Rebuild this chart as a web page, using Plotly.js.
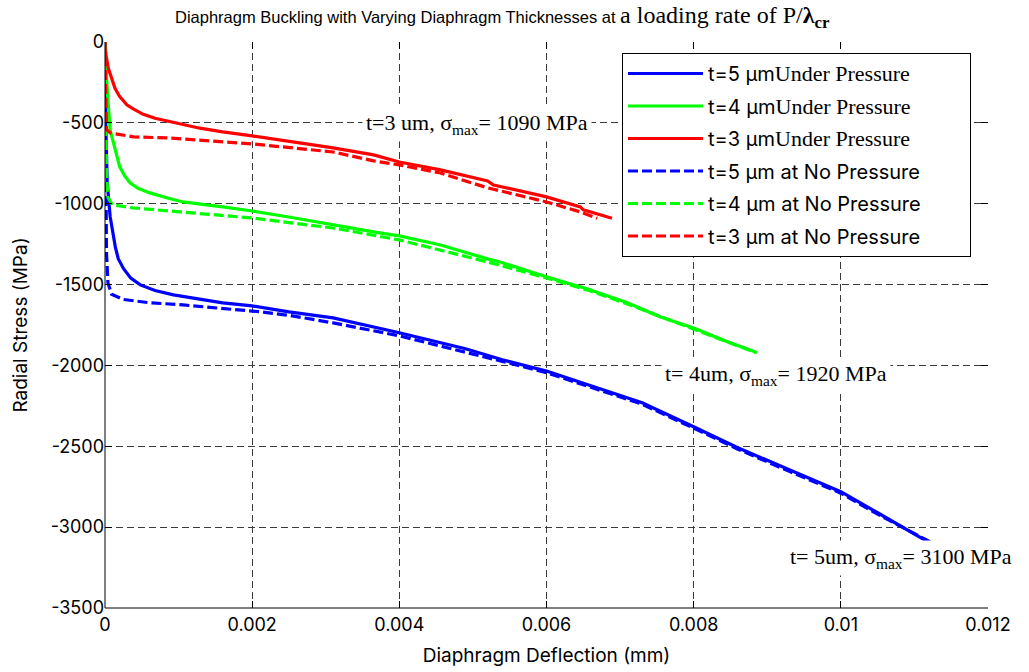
<!DOCTYPE html>
<html>
<head>
<meta charset="utf-8">
<script src="https://cdn.plot.ly/plotly-3.0.1.min.js"></script>
<style>
  html, body { margin: 0; padding: 0; background: #fff; }
  #chart { width: 1029px; height: 672px; }
</style>
</head>
<body>
<div id="chart"></div>
<script>
// Diaphragm deflection (mm) vs radial stress (MPa), per thickness and load case
const t5PressX = [0, 0.00001, 0.00003, 0.00007, 0.00014, 0.00018, 0.00025, 0.00035, 0.00048, 0.00068, 0.00093, 0.0016, 0.002, 0.0025, 0.0031, 0.004, 0.0049, 0.0054, 0.006, 0.0067, 0.0073, 0.008, 0.0086, 0.0093, 0.01, 0.0105, 0.01122];
const t5PressY = [0, -500, -870, -1080, -1267, -1340, -1400, -1460, -1502, -1537, -1564, -1613, -1632, -1669, -1706, -1798, -1897, -1965, -2035, -2140, -2231, -2379, -2509, -2645, -2781, -2911, -3100];

const t4PressX = [0, 0.00001, 0.00004, 0.00007, 0.00014, 0.0002, 0.00027, 0.00034, 0.00045, 0.00061, 0.00085, 0.00106, 0.0016, 0.002, 0.0025, 0.0031, 0.00365, 0.004, 0.00456, 0.0052, 0.00537, 0.006, 0.00656, 0.0071, 0.00755, 0.008, 0.00846, 0.00886];
const t4PressY = [0, -130, -358, -544, -667, -772, -830, -871, -905, -933, -965, -989, -1020, -1045, -1082, -1131, -1174, -1199, -1255, -1341, -1360, -1452, -1527, -1613, -1700, -1768, -1854, -1920];

const t3PressX = [0, 0.000014, 0.000045, 0.000091, 0.000136, 0.0002, 0.0003, 0.00039, 0.00052, 0.00068, 0.00084, 0.00106, 0.00129, 0.0016, 0.002, 0.0031, 0.00365, 0.004, 0.00456, 0.0052, 0.00528, 0.006, 0.00646, 0.0065, 0.00689];
const t3PressY = [0, -80, -163, -225, -286, -338, -390, -415, -447, -472, -488, -509, -533, -556, -581, -655, -698, -742, -791, -859, -884, -958, -1020, -1038, -1090];

const t5NoPressX = [0, 0.00002, 0.00004, 0.00009, 0.00025, 0.0006, 0.00106, 0.0016, 0.0021, 0.0025, 0.0031, 0.004, 0.0049, 0.0054, 0.006, 0.0067, 0.0073, 0.008, 0.0086, 0.0093, 0.01, 0.0105, 0.01125];
const t5NoPressY = [0, -1300, -1490, -1560, -1592, -1612, -1626, -1646, -1668, -1690, -1737, -1817, -1916, -1975, -2045, -2150, -2240, -2388, -2518, -2655, -2790, -2920, -3100];

const t4NoPressX = [0, 0.00001, 0.00002, 0.00004, 0.0001, 0.00038, 0.00106, 0.002, 0.0025, 0.0031, 0.004, 0.0052, 0.006, 0.0066, 0.0071, 0.0076, 0.008, 0.0085, 0.00884];
const t4NoPressY = [0, -300, -800, -960, -1007, -1026, -1051, -1088, -1117, -1150, -1224, -1360, -1459, -1540, -1620, -1708, -1776, -1862, -1920];

const t3NoPressX = [0, 0.00001, 0.00002, 0.00007, 0.00039, 0.00084, 0.00156, 0.002, 0.0031, 0.00365, 0.004, 0.00456, 0.0052, 0.006, 0.00646, 0.00669];
const t3NoPressY = [0, -300, -540, -562, -587, -593, -618, -630, -680, -735, -760, -810, -902, -989, -1051, -1090];

const xTickVals = [0, 0.002, 0.004, 0.006, 0.008, 0.01, 0.012];
const xTickText = ['0', '0.002', '0.004', '0.006', '0.008', '0.01', '0.012'];
const yTickVals = [-3500, -3000, -2500, -2000, -1500, -1000, -500, 0];
const yTickText = ['-3500', '-3000', '-2500', '-2000', '-1500', '-1000', '-500', '0'];

const SERIF = "'Liberation Serif', 'Times New Roman', serif";
const SANS = "Inter, 'Liberation Sans', Arial, sans-serif";
const TITLE_SANS = "'Liberation Sans', Arial, sans-serif";
const serifSpan = (s, px) => `<span style="font-family:${SERIF};font-size:${px}px">${s}</span>`;
// trailing blank room so the legend frame keeps its wide box
const legendPad = '\u00a0'.repeat(8);

const seriesNames = [
  't=5 μm' + serifSpan('Under Pressure', 22),
  't=4 μm' + serifSpan('Under Pressure', 22),
  't=3 μm' + serifSpan('Under Pressure', 22),
  't=5 μm at No Pressure' + legendPad,
  't=4 μm at No Pressure',
  't=3 μm at No Pressure'
];

const BLUE = '#0000ff', GREEN = '#00ff00', RED = '#ff0000';
const DASH = '10px,4px';

function curve(x, y, name, color, dashed, group) {
  return {
    x: x, y: y, name: name, type: 'scatter', mode: 'lines',
    legendgroup: group,
    line: { color: color, width: 3.2, dash: dashed ? DASH : 'solid' },
    hoverinfo: 'x+y+name'
  };
}

const data = [
  curve(t5PressX, t5PressY, seriesNames[0], BLUE, false, 'a'),
  curve(t4PressX, t4PressY, seriesNames[1], GREEN, false, 'b'),
  curve(t3PressX, t3PressY, seriesNames[2], RED, false, 'c'),
  curve(t5NoPressX, t5NoPressY, seriesNames[3], BLUE, true, 'd'),
  curve(t4NoPressX, t4NoPressY, seriesNames[4], GREEN, true, 'e'),
  curve(t3NoPressX, t3NoPressY, seriesNames[5], RED, true, 'f')
];

const gridStyle = { showgrid: true, gridcolor: '#3a3a3a', gridwidth: 1, griddash: '7px,4px' };

const noteFont = { family: SERIF, size: 22, color: '#000' };
function note(x, y, text) {
  return { x: x, y: y, xref: 'x', yref: 'y', text: text, showarrow: false,
           xanchor: 'center', yanchor: 'middle', bgcolor: '#ffffff', borderpad: 3, font: noteFont };
}

const layout = {
  width: 1029, height: 672,
  margin: { l: 105, r: 41, t: 42, b: 64 },
  paper_bgcolor: '#ffffff', plot_bgcolor: '#ffffff',
  font: { family: SANS, size: 19, color: '#000' },
  showlegend: true,
  title: {
    text: 'Diaphragm Buckling with Varying Diaphragm Thicknesses at ' +
          serifSpan('a loading rate of P/<b>λ</b><sub><b>cr</b></sub>', 24),
    x: 175 / 1029, xref: 'container', xanchor: 'left',
    y: 1 - 17 / 672, yref: 'container', yanchor: 'middle',
    font: { family: TITLE_SANS, size: 16.5, color: '#000' }
  },
  xaxis: Object.assign({
    range: [0, 0.012], autorange: false,
    tickmode: 'array', tickvals: xTickVals, ticktext: xTickText,
    ticks: 'inside', ticklen: 7, tickwidth: 1, tickcolor: '#000',
    showline: false, mirror: 'ticks', zeroline: false, ticklabelstandoff: 4,
    tickfont: { family: SANS, size: 18, color: '#000' },
    title: { text: 'Diaphragm Deflection (mm)', standoff: 14, font: { family: SANS, size: 19, color: '#000' } }
  }, gridStyle),
  yaxis: Object.assign({
    range: [-3500, 0], autorange: false,
    tickmode: 'array', tickvals: yTickVals, ticktext: yTickText,
    ticks: 'inside', ticklen: 7, tickwidth: 1, tickcolor: '#000',
    showline: false, mirror: 'ticks', zeroline: false,
    tickfont: { family: SANS, size: 18, color: '#000' },
    title: { text: 'Radial Stress (MPa)', standoff: 18, font: { family: SANS, size: 19, color: '#000' } }
  }, gridStyle),
  legend: {
    x: (622 - 105) / 883, y: 1 - (53 - 42) / 566, xanchor: 'left', yanchor: 'top',
    bgcolor: '#ffffff', bordercolor: '#000000', borderwidth: 1,
    font: { family: SANS, size: 20, color: '#000' },
    tracegroupgap: 3.5, itemwidth: 75, traceorder: 'grouped'
  },
  shapes: [
    // solid left and bottom axis lines (top and right edges only carry the dashed grid)
    { type: 'line', xref: 'paper', yref: 'paper', x0: 0, x1: 0, y0: 0, y1: 1, line: { color: '#000', width: 1 } },
    { type: 'line', xref: 'paper', yref: 'paper', x0: 0, x1: 1, y0: 0, y1: 0, line: { color: '#000', width: 1 } }
  ],
  annotations: [
    note(0.00505, -505, 't=3 um, σ<sub>max</sub>= 1090 MPa'),
    note(0.00912, -2059, 't= 4um, σ<sub>max</sub>= 1920 MPa'),
    note(0.01082, -3191, 't= 5um, σ<sub>max</sub>= 3100 MPa')
  ]
};

Plotly.newPlot('chart', data, layout, { displayModeBar: false, staticPlot: true });
</script>
</body>
</html>
